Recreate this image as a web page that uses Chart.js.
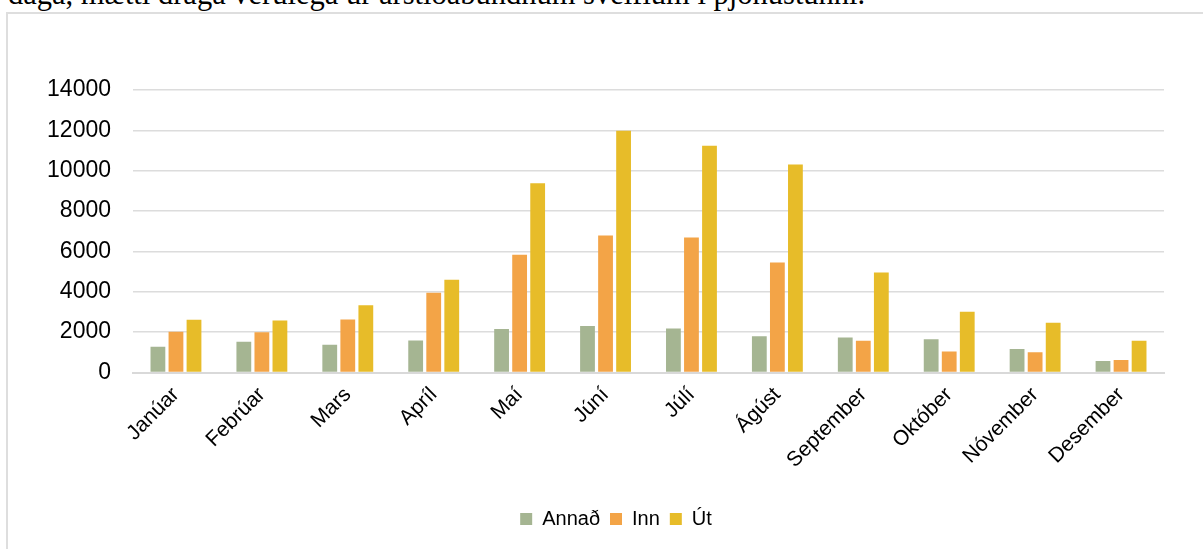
<!DOCTYPE html>
<html>
<head>
<meta charset="utf-8">
<script src="https://cdn.jsdelivr.net/npm/chart.js@4.4.1/dist/chart.umd.min.js"></script>
<style>
    html, body { margin: 0; padding: 0; background: #ffffff; overflow: hidden; }
    #lead {
        position: absolute; left: 8px; top: -21px; white-space: nowrap;
        font-family: "Liberation Serif", serif; font-size: 30.5px; line-height: 30.5px; color: #000;
    }
    #frame {
        position: absolute; left: 6px; top: 12px; width: 1220px; height: 560px;
        border: 2px solid #dedede; box-sizing: border-box;
    }
    #wrap { position: absolute; left: 0; top: 0; width: 1203px; height: 549px; }
</style>
</head>
<body>
<div id="lead">daga, mætti draga verulega úr árstíðabundnum sveiflum í þjónustunni.</div>
<div id="frame"></div>
<div id="wrap"><canvas id="monthChart"></canvas></div>

<script>
// ------------------------------------------------------
// DATA
// ------------------------------------------------------
const months = ["Janúar", "Febrúar", "Mars", "Apríl", "Maí", "Júní",
                "Júlí", "Ágúst", "September", "Október", "Nóvember", "Desember"];

const annad = [1270, 1520, 1370, 1580, 2160, 2310, 2180, 1800, 1730, 1650, 1170, 570];
const inn   = [2020, 2000, 2630, 3950, 5830, 6790, 6690, 5450, 1570, 1035, 1000, 620];
const ut    = [2610, 2580, 3330, 4600, 9380, 11980, 11240, 10310, 4950, 3010, 2460, 1570];

const seriesNames = ["Annað", "Inn", "Út"];

// ------------------------------------------------------
// CHART
// ------------------------------------------------------
const FONT = "'Liberation Sans', Arial, sans-serif";

function makeSet(label, data, color) {
    return {
        label: label,
        data: data,
        backgroundColor: color,
        borderWidth: 0,
        categoryPercentage: 0.63,
        barPercentage: 0.82
    };
}

// legend sits under the plot centre rather than the canvas centre
const legendShift = {
    id: "legendShift",
    afterLayout(chart) {
        if (!chart.legend) return;
        chart.legend.left += 34;
        chart.legend.right += 34;
    }
};

new Chart(document.getElementById("monthChart"), {
    type: "bar",
    data: {
        labels: months,
        datasets: [
            makeSet(seriesNames[0], annad, "#a5b592"),
            makeSet(seriesNames[1], inn, "#f3a447"),
            makeSet(seriesNames[2], ut, "#e7bc29")
        ]
    },
    plugins: [legendShift],
    options: {
        responsive: true,
        maintainAspectRatio: false,
        animation: false,
        layout: {
            padding: { left: 0, right: 39, top: 90, bottom: 10 }
        },
        plugins: {
            tooltip: { enabled: false },
            legend: {
                position: "bottom",
                labels: {
                    color: "#000",
                    boxWidth: 12,
                    boxHeight: 12,
                    padding: 10,
                    font: { family: FONT, size: 20 }
                }
            }
        },
        scales: {
            x: {
                grid: { display: false, drawTicks: false },
                border: { display: true, color: "#d9d9d9", width: 2 },
                ticks: {
                    color: "#000",
                    minRotation: 45,
                    maxRotation: 45,
                    padding: 10,
                    font: { family: FONT, size: 21 }
                },
                afterFit: (scale) => { scale.height = 126.5; }
            },
            y: {
                min: 0,
                max: 14000,
                border: { display: false },
                grid: { color: "#dcdcdc", lineWidth: 1.5, drawTicks: false },
                ticks: {
                    stepSize: 2000,
                    color: "#000",
                    padding: 22,
                    font: { family: FONT, size: 23 },
                    callback: (v) => String(v)
                },
                afterFit: (scale) => { scale.width = 133; }
            }
        }
    }
});
</script>
</body>
</html>
